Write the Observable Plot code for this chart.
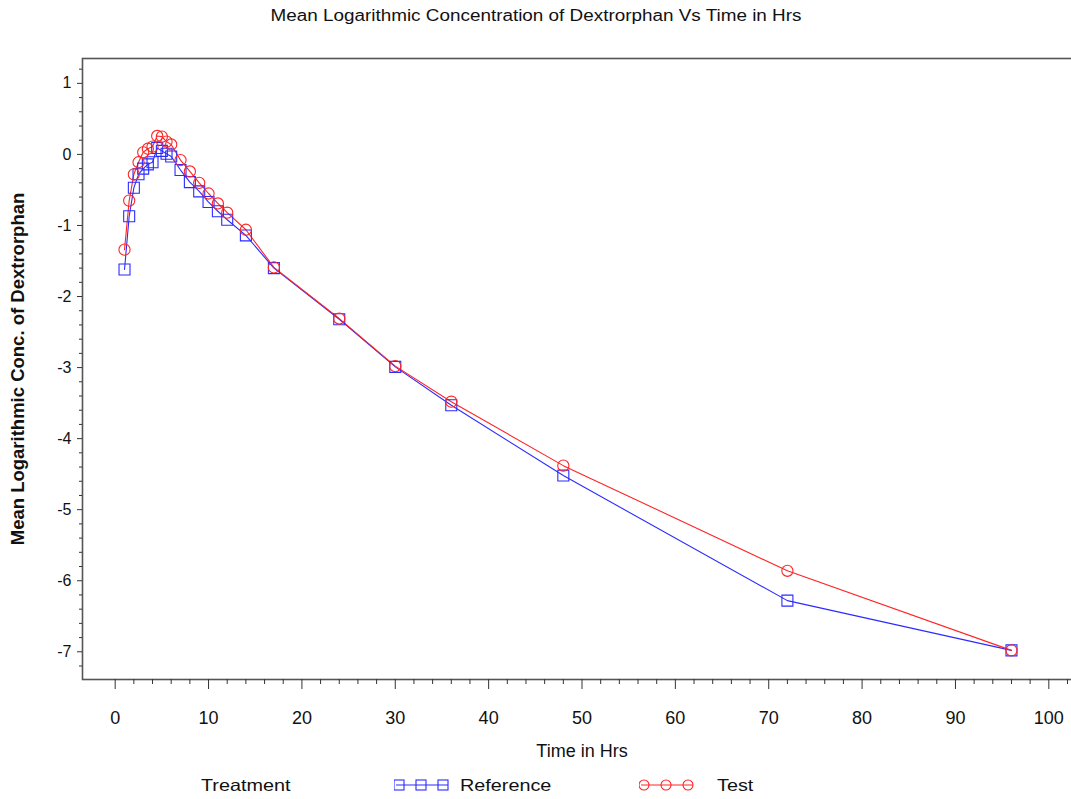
<!DOCTYPE html>
<html>
<head>
<meta charset="utf-8">
<script src="https://cdn.jsdelivr.net/npm/d3@7"></script>
<script src="https://cdn.jsdelivr.net/npm/@observablehq/plot@0.6"></script>
<style>
  html, body { margin: 0; padding: 0; background: #fff; overflow: hidden; width: 1071px; height: 799px; }
  body { font-family: "Liberation Sans", Arial, sans-serif; position: relative; }
  #title { height: 40px; width: 1071px; text-align: center; line-height: 32px; color: #111; }
  #title span { display: inline-block; font-size: 16px; transform: scaleX(1.18); }
  #chart { height: 720px; width: 1071px; overflow: hidden; }
  #legend { position: absolute; left: 0; top: 760px; width: 1071px; height: 39px; font-size: 16.5px; color: #111; }
  #legend .item { position: absolute; top: 15px; line-height: 20px; transform: scaleX(1.2); transform-origin: left center; }
  #legend svg { position: absolute; top: 17px; }
</style>
</head>
<body>
<div id="title"><span></span></div>
<div id="chart"></div>
<div id="legend"></div>
<script>
// ---- data ----
const times = [1, 1.5, 2, 2.5, 3, 3.5, 4, 4.5, 5, 5.5, 6, 7, 8, 9, 10, 11, 12, 14, 17, 24, 30, 36, 48, 72, 96];
const referenceValues = [-1.62, -0.87, -0.47, -0.28, -0.20, -0.14, -0.11, 0.09, 0.05, 0.01, -0.03, -0.22, -0.39, -0.52, -0.67, -0.80, -0.92, -1.14, -1.60, -2.32, -2.99, -3.53, -4.52, -6.28, -6.98];
const testValues = [-1.34, -0.65, -0.28, -0.11, 0.03, 0.08, 0.11, 0.26, 0.25, 0.18, 0.14, -0.08, -0.24, -0.40, -0.55, -0.69, -0.82, -1.06, -1.59, -2.31, -2.98, -3.48, -4.38, -5.86, -6.98];
const seriesNames = ["Reference", "Test"];
const seriesColors = ["#2b2bff", "#ff2424"];
const seriesSymbols = ["square", "circle"];
const xTickValues = [0, 10, 20, 30, 40, 50, 60, 70, 80, 90, 100];
const yTickValues = [-7, -6, -5, -4, -3, -2, -1, 0, 1];
const titleText = "Mean Logarithmic Concentration of Dextrorphan Vs Time in Hrs";
const xLabel = "Time in Hrs";
const yLabel = "Mean Logarithmic Conc. of Dextrorphan";
const legendTitle = "Treatment";

document.querySelector("#title span").textContent = titleText;

const rows = [
  ...times.map((t, i) => ({time: t, value: referenceValues[i], treatment: seriesNames[0]})),
  ...times.map((t, i) => ({time: t, value: testValues[i], treatment: seriesNames[1]}))
];
const refRows = rows.filter(d => d.treatment === seriesNames[0]);
const testRows = rows.filter(d => d.treatment === seriesNames[1]);

const xMinor = d3.range(0, 103, 2).filter(v => !xTickValues.includes(v));
const yMinor = d3.range(-36, 7, 1).map(v => +(v * 0.2).toFixed(1)).filter(v => !yTickValues.includes(v));
const hyphenFormat = d => String(d);

const chart = Plot.plot({
  width: 1090,
  height: 720,
  marginLeft: 82,
  marginRight: 9,
  marginTop: 18,
  marginBottom: 81,
  style: {fontFamily: "'Liberation Sans', Arial, sans-serif", fontSize: "15px", color: "#111", background: "#fff", overflow: "visible", maxWidth: "none"},
  x: {domain: [-3.5, 103.5]},
  y: {domain: [-7.39, 1.35]},
  color: {domain: seriesNames, range: seriesColors},
  symbol: {domain: seriesNames, range: seriesSymbols},
  marks: [
    Plot.frame({stroke: "#555", strokeWidth: 1.6}),
    Plot.axisX({ticks: xMinor, tickSize: 5, tickFormat: () => "", label: null, stroke: "#333"}),
    Plot.axisX({ticks: xTickValues, tickSize: 10, tickPadding: 22, tickFormat: hyphenFormat, label: xLabel, labelAnchor: "center", labelOffset: 77, labelArrow: "none", fontSize: 18, stroke: "#333"}),
    Plot.axisY({ticks: yMinor, tickSize: 3, tickFormat: () => "", label: null, stroke: "#333"}),
    Plot.axisY({ticks: yTickValues, tickSize: 5, tickPadding: 6, tickFormat: hyphenFormat, label: null, fontSize: 16, stroke: "#333"}),
    Plot.axisY({ticks: [], label: yLabel, labelAnchor: "center", labelOffset: 72, labelArrow: "none", fontSize: 18.5, fontWeight: 600}),
    Plot.line(rows, {x: "time", y: "value", stroke: "treatment", z: "treatment", strokeWidth: 1.1}),
    Plot.dot(refRows, {x: "time", y: "value", stroke: "treatment", symbol: "treatment", r: 6.2, strokeWidth: 1.1, fill: "none"}),
    Plot.dot(testRows, {x: "time", y: "value", stroke: "treatment", symbol: "treatment", r: 5.6, strokeWidth: 1.1, fill: "none"})
  ]
});
document.getElementById("chart").appendChild(chart);

// ---- legend ----
const legend = document.getElementById("legend");
const lt = document.createElement("div");
lt.className = "item"; lt.style.left = "201px"; lt.textContent = legendTitle;
legend.appendChild(lt);
const legendX = [[394, 460], [639, 717]];
seriesNames.forEach((name, i) => {
  const [sx, tx] = legendX[i];
  const ns = "http://www.w3.org/2000/svg";
  const s = document.createElementNS(ns, "svg");
  s.setAttribute("width", 58); s.setAttribute("height", 16);
  s.style.left = sx + "px";
  const ln = document.createElementNS(ns, "line");
  ln.setAttribute("x1", 2); ln.setAttribute("x2", 54); ln.setAttribute("y1", 8); ln.setAttribute("y2", 8);
  ln.setAttribute("stroke", seriesColors[i]); ln.setAttribute("stroke-width", 1.1);
  s.appendChild(ln);
  [5, 27, 49].forEach(cx => {
    let m;
    if (seriesSymbols[i] === "square") {
      m = document.createElementNS(ns, "rect");
      m.setAttribute("x", cx - 5); m.setAttribute("y", 3); m.setAttribute("width", 10); m.setAttribute("height", 10);
    } else {
      m = document.createElementNS(ns, "circle");
      m.setAttribute("cx", cx); m.setAttribute("cy", 8); m.setAttribute("r", 5);
    }
    m.setAttribute("fill", "none"); m.setAttribute("stroke", seriesColors[i]); m.setAttribute("stroke-width", 1.1);
    s.appendChild(m);
  });
  legend.appendChild(s);
  const t = document.createElement("div");
  t.className = "item"; t.style.left = tx + "px"; t.textContent = name;
  legend.appendChild(t);
});
</script>
</body>
</html>
